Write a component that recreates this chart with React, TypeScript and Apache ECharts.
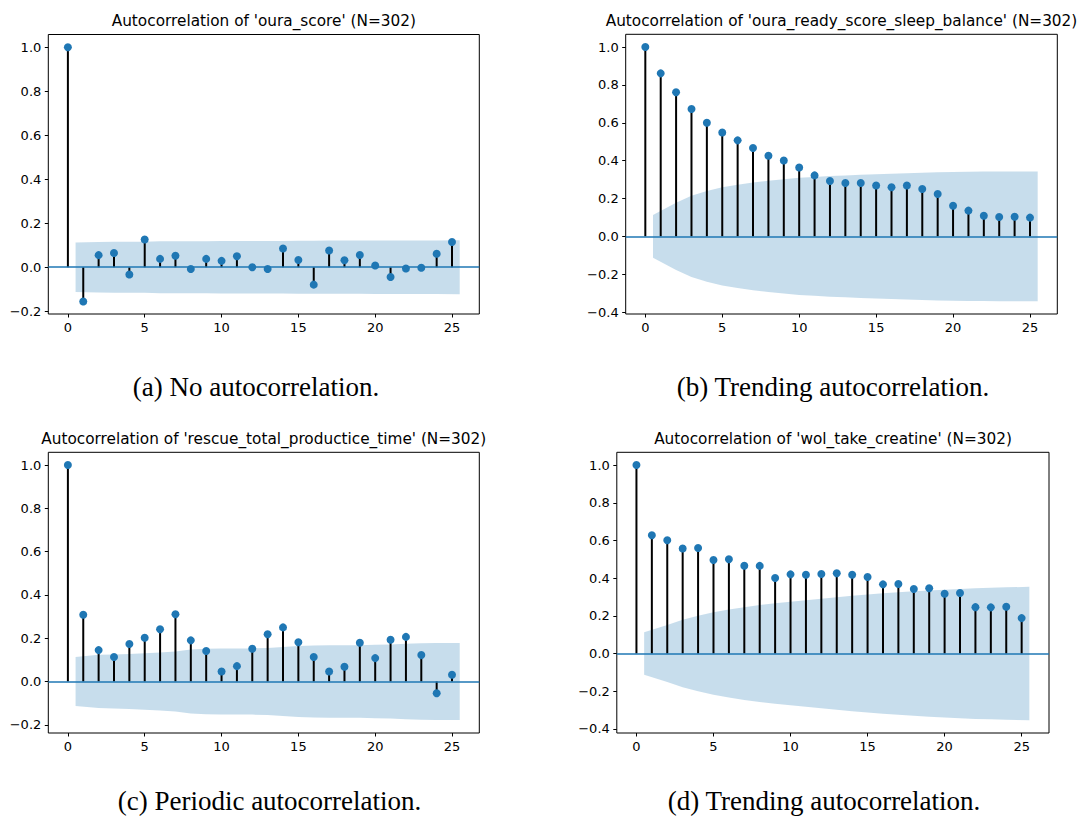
import React, { useEffect, useRef } from "react";
import * as echarts from "echarts";

const lags = [0, 1, 2, 3, 4, 5, 6, 7, 8, 9, 10, 11, 12, 13, 14, 15, 16, 17, 18, 19, 20, 21, 22, 23, 24, 25];
const xTicks = [0, 5, 10, 15, 20, 25];
const yTicksAC = [-0.2, 0, 0.2, 0.4, 0.6, 0.8, 1.0];
const yTicksBD = [-0.4, -0.2, 0, 0.2, 0.4, 0.6, 0.8, 1.0];

const titles = [
  "Autocorrelation of 'oura_score' (N=302)",
  "Autocorrelation of 'oura_ready_score_sleep_balance' (N=302)",
  "Autocorrelation of 'rescue_total_productice_time' (N=302)",
  "Autocorrelation of 'wol_take_creatine' (N=302)",
];
const captions = [
  "(a) No autocorrelation.",
  "(b) Trending autocorrelation.",
  "(c) Periodic autocorrelation.",
  "(d) Trending autocorrelation.",
];

const acfA = [1.0, -0.156, 0.055, 0.065, -0.033, 0.126, 0.038, 0.052, -0.008, 0.038, 0.029, 0.05, 0.0, -0.008, 0.085, 0.033, -0.079, 0.076, 0.032, 0.056, 0.008, -0.044, -0.006, -0.002, 0.061, 0.115];
const confA = [0.113, 0.115, 0.116, 0.116, 0.116, 0.118, 0.118, 0.118, 0.118, 0.119, 0.119, 0.119, 0.119, 0.119, 0.12, 0.12, 0.121, 0.121, 0.121, 0.122, 0.122, 0.122, 0.122, 0.122, 0.123];

const acfB = [1.0, 0.861, 0.761, 0.673, 0.6, 0.549, 0.507, 0.467, 0.426, 0.401, 0.364, 0.322, 0.292, 0.282, 0.282, 0.269, 0.259, 0.269, 0.25, 0.224, 0.162, 0.136, 0.109, 0.102, 0.104, 0.099];
const confB = [0.113, 0.178, 0.215, 0.24, 0.259, 0.273, 0.285, 0.294, 0.302, 0.309, 0.314, 0.319, 0.322, 0.325, 0.328, 0.331, 0.333, 0.336, 0.339, 0.34, 0.341, 0.342, 0.343, 0.343, 0.343];

const acfC = [1.0, 0.308, 0.145, 0.113, 0.173, 0.202, 0.241, 0.311, 0.19, 0.141, 0.046, 0.071, 0.151, 0.218, 0.25, 0.181, 0.113, 0.046, 0.068, 0.179, 0.108, 0.193, 0.206, 0.122, -0.054, 0.031];
const confC = [0.113, 0.123, 0.125, 0.127, 0.13, 0.134, 0.139, 0.148, 0.151, 0.152, 0.152, 0.153, 0.155, 0.159, 0.164, 0.166, 0.167, 0.167, 0.168, 0.17, 0.171, 0.174, 0.177, 0.178, 0.178];

const acfD = [1.0, 0.628, 0.601, 0.557, 0.56, 0.496, 0.5, 0.466, 0.465, 0.401, 0.42, 0.418, 0.422, 0.426, 0.418, 0.406, 0.367, 0.369, 0.342, 0.346, 0.317, 0.321, 0.246, 0.245, 0.248, 0.188];
const confD = [0.113, 0.151, 0.179, 0.2, 0.219, 0.233, 0.246, 0.257, 0.267, 0.275, 0.283, 0.291, 0.298, 0.306, 0.313, 0.32, 0.325, 0.33, 0.335, 0.339, 0.343, 0.347, 0.349, 0.351, 0.354];

const panels = [
  { acf: acfA, conf: confA, yTicks: yTicksAC, yMin: -0.2125, yMax: 1.0578, grid: { left: 48.3, top: 34.5, width: 431, height: 279.5 }, titlePos: [263.8, 21], capPos: [256, 387] },
  { acf: acfB, conf: confB, yTicks: yTicksBD, yMin: -0.41, yMax: 1.0672, grid: { left: 625.7, top: 34.3, width: 431.6, height: 279.7 }, titlePos: [841.5, 21], capPos: [833, 387] },
  { acf: acfC, conf: confC, yTicks: yTicksAC, yMin: -0.238, yMax: 1.059, grid: { left: 48.3, top: 452.3, width: 431, height: 280.7 }, titlePos: [263.8, 439], capPos: [269.5, 801] },
  { acf: acfD, conf: confD, yTicks: yTicksBD, yMin: -0.4217, yMax: 1.0677, grid: { left: 616.8, top: 452.3, width: 432.2, height: 280.7 }, titlePos: [833, 439], capPos: [824, 801] },
];

const C0 = "#1f77b4";
const tickFont = "DejaVu Sans";

function fmt(v: number) {
  return (v < 0 ? "\u2212" : "") + Math.abs(v).toFixed(1);
}

export default function App() {
  const ref = useRef<HTMLDivElement>(null);
  useEffect(() => {
    if (!ref.current) return;
    const chart = echarts.init(ref.current, undefined, { renderer: "svg" });
    const grids: any[] = [];
    const xAxes: any[] = [];
    const yAxes: any[] = [];
    const series: any[] = [];
    const graphics: any[] = [];

    panels.forEach((p, i) => {
      grids.push({ ...p.grid, show: true, borderColor: "#000", borderWidth: 1, backgroundColor: "transparent", containLabel: false });
      xAxes.push({
        type: "value", gridIndex: i, min: -1.275, max: 26.775,
        splitLine: { show: false }, axisLine: { show: false, onZero: false },
        axisTick: { show: true, customValues: xTicks, length: 3.5, lineStyle: { color: "#000", width: 1 } },
        axisLabel: { customValues: xTicks, fontSize: 13, color: "#000", fontFamily: tickFont, margin: 7, hideOverlap: false },
      });
      yAxes.push({
        type: "value", gridIndex: i, min: p.yMin, max: p.yMax,
        splitLine: { show: false }, axisLine: { show: false, onZero: false },
        axisTick: { show: true, customValues: p.yTicks, length: 3.5, lineStyle: { color: "#000", width: 1 } },
        axisLabel: { customValues: p.yTicks, fontSize: 13, color: "#000", fontFamily: tickFont, margin: 7, hideOverlap: false, showMinLabel: true, showMaxLabel: true, formatter: (v: number) => fmt(v) },
      });
      const bandLags = lags.slice(1).map((l, k, arr) => (k === 0 ? l - 0.5 : k === arr.length - 1 ? l + 0.5 : l));
      const conf = p.conf;
      series.push({
        type: "custom", xAxisIndex: i, yAxisIndex: i, z: 1, silent: true,
        data: [[0, 0]],
        renderItem: (_params: any, api: any) => {
          const up = bandLags.map((x, k) => api.coord([x, conf[k]]));
          const lo = bandLags.map((x, k) => api.coord([x, -conf[k]])).reverse();
          return { type: "polygon", shape: { points: up.concat(lo) }, style: { fill: "rgba(31,119,180,0.25)", stroke: "none" } };
        },
      });
      series.push({
        type: "custom", xAxisIndex: i, yAxisIndex: i, z: 2, silent: true,
        data: lags.map((l, k) => [l, p.acf[k]]),
        encode: { x: 0, y: 1 },
        renderItem: (_params: any, api: any) => {
          const x = api.value(0);
          const y = api.value(1);
          const p0 = api.coord([x, 0]);
          const p1 = api.coord([x, y]);
          return { type: "line", shape: { x1: p0[0], y1: p0[1], x2: p1[0], y2: p1[1] }, style: { stroke: "#000", lineWidth: 2 } };
        },
      });
      series.push({
        type: "scatter", xAxisIndex: i, yAxisIndex: i, z: 4, silent: true,
        data: lags.map((l, k) => [l, p.acf[k]]),
        symbol: "circle", symbolSize: 8,
        itemStyle: { color: C0, opacity: 1 },
        markLine: {
          silent: true, symbol: "none", label: { show: false },
          lineStyle: { color: C0, width: 1.6, type: "solid" },
          data: [{ yAxis: 0 }],
          z: 3,
        },
      });
      graphics.push({
        type: "text", x: p.titlePos[0], y: p.titlePos[1],
        style: { text: titles[i], fontSize: 15.3, fontFamily: "DejaVu Sans", fill: "#000", textAlign: "center", textVerticalAlign: "middle", align: "center", verticalAlign: "middle" },
      });
      graphics.push({
        type: "text", x: p.capPos[0], y: p.capPos[1],
        style: { text: captions[i], fontSize: 27, fontFamily: "Liberation Serif", fill: "#000", textAlign: "center", textVerticalAlign: "middle", align: "center", verticalAlign: "middle" },
      });
    });

    chart.setOption({
      animation: false,
      backgroundColor: "#fff",
      grid: grids,
      xAxis: xAxes,
      yAxis: yAxes,
      series,
      graphic: graphics,
    });
    return () => chart.dispose();
  }, []);
  return <div ref={ref} style={{ position: "absolute", left: 0, top: 0, width: 1081, height: 818, background: "#fff" }} />;
}
